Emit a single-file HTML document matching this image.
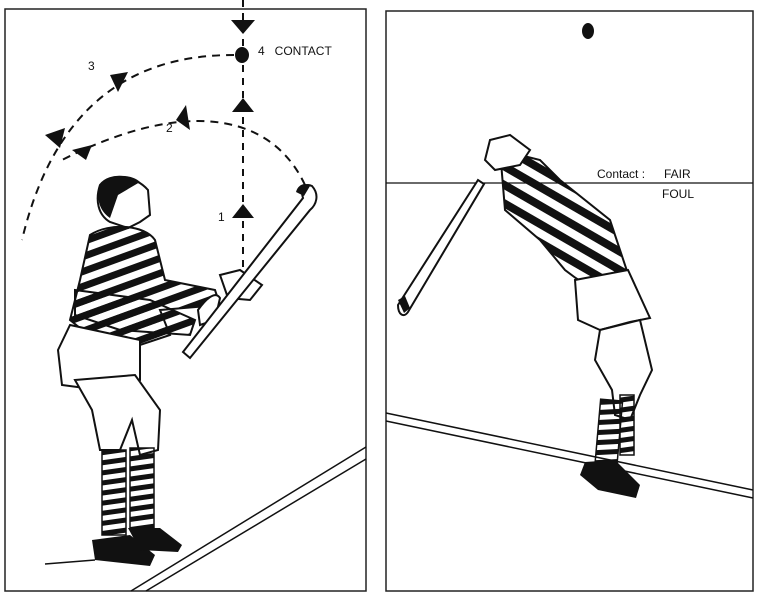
<!DOCTYPE html>
<html><head><style>
html,body{margin:0;padding:0;background:#fff}
svg{display:block}
text{font-family:"Liberation Sans",sans-serif;fill:#111}
</style></head><body>
<svg width="757" height="600" viewBox="0 0 757 600" xmlns="http://www.w3.org/2000/svg">
<defs>
<pattern id="st" width="14" height="14" patternUnits="userSpaceOnUse" patternTransform="rotate(-20)">
<rect width="14" height="7" fill="#111"/></pattern>
<pattern id="st2" width="16" height="16" patternUnits="userSpaceOnUse" patternTransform="rotate(30)">
<rect width="16" height="8" fill="#111"/></pattern>
<pattern id="sk" width="10" height="10" patternUnits="userSpaceOnUse" patternTransform="rotate(-8)">
<rect width="10" height="5" fill="#111"/></pattern>
</defs>
<rect width="757" height="600" fill="#fff"/>
<!-- Left panel -->
<rect x="5" y="9" width="361" height="582" fill="none" stroke="#222" stroke-width="1.5"/>
<line x1="243" y1="0" x2="243" y2="275" stroke="#111" stroke-width="2" stroke-dasharray="7,6"/>
<polygon points="231,20 255,20 243,34" fill="#111"/>
<ellipse cx="242" cy="55" rx="7" ry="8" fill="#111"/>
<polygon points="232,112 254,112 243,98" fill="#111"/>
<polygon points="232,218 254,218 243,204" fill="#111"/>
<path d="M234,55 C160,55 60,80 22,240" fill="none" stroke="#111" stroke-width="2" stroke-dasharray="8,6"/>
<path d="M305,185 C270,110 180,100 62,160" fill="none" stroke="#111" stroke-width="2" stroke-dasharray="8,6"/>
<polygon points="110,75 128,72 118,92" fill="#111"/>
<polygon points="45,135 65,128 60,148" fill="#111"/>
<polygon points="186,105 190,130 176,120" fill="#111"/>
<polygon points="72,150 92,145 86,160" fill="#111"/>
<text x="258" y="55" font-size="12">4&#160;&#160;&#160;CONTACT</text>
<text x="88" y="70" font-size="12">3</text>
<text x="166" y="132" font-size="12">2</text>
<text x="218" y="221" font-size="12">1</text>
<line x1="131" y1="591" x2="366" y2="447" stroke="#111" stroke-width="1.5"/>
<line x1="146" y1="591" x2="366" y2="459" stroke="#111" stroke-width="1.5"/>
<!-- left figure -->
<path d="M100,185 C110,172 135,175 148,190 L150,215 L140,222 L128,228 L110,222 C98,215 95,200 100,185Z" fill="#fff" stroke="#111" stroke-width="2"/>
<path d="M100,185 C105,175 130,172 140,182 L118,195 L110,218 C98,210 96,195 100,185Z" fill="#111"/>
<path d="M90,235 C110,222 145,225 155,240 L165,280 L215,290 L220,305 L160,310 L170,335 L140,345 L95,340 L70,320 L80,280Z" fill="url(#st)" stroke="#111" stroke-width="2"/>
<path d="M75,290 L150,300 L195,320 L190,335 L120,330 L75,315Z" fill="url(#st)" stroke="#111" stroke-width="2"/>
<path d="M70,325 L140,340 L140,380 L100,390 L62,385 L58,350Z" fill="#fff" stroke="#111" stroke-width="2"/>
<path d="M75,380 L135,375 L160,410 L158,450 L140,455 L132,420 L120,450 L100,450 L92,410Z" fill="#fff" stroke="#111" stroke-width="2"/>
<rect x="102" y="450" width="24" height="85" fill="url(#sk)" stroke="#111" stroke-width="1.5"/>
<rect x="130" y="448" width="24" height="80" fill="url(#sk)" stroke="#111" stroke-width="1.5"/>
<path d="M92,540 L130,535 L155,555 L150,566 L95,560 Z" fill="#111"/>
<path d="M128,528 L160,528 L182,545 L178,552 L140,550Z" fill="#111"/>
<line x1="45" y1="564" x2="95" y2="560" stroke="#111" stroke-width="1.5"/>
<path d="M198,310 C205,300 215,290 220,298 L215,320 L200,325Z" fill="#fff" stroke="#111" stroke-width="2"/>
<path d="M220,275 L240,270 L262,285 L250,300 L228,298Z" fill="#fff" stroke="#111" stroke-width="2"/>
<path d="M183,352 L303,198 C300,188 305,183 312,186 C320,195 316,205 310,210 L190,358Z" fill="#fff" stroke="#111" stroke-width="2"/>
<path d="M296,192 C298,184 306,182 310,186 L304,196Z" fill="#111"/>
<!-- Right panel -->
<rect x="386" y="11" width="367" height="580" fill="none" stroke="#222" stroke-width="1.5"/>
<ellipse cx="588" cy="31" rx="6" ry="8" fill="#111"/>
<line x1="386" y1="183" x2="753" y2="183" stroke="#111" stroke-width="1.3"/>
<text x="597" y="178" font-size="12">Contact :</text>
<text x="664" y="178" font-size="12">FAIR</text>
<text x="662" y="198" font-size="12">FOUL</text>
<line x1="386" y1="413" x2="753" y2="490" stroke="#111" stroke-width="1.5"/>
<line x1="386" y1="421" x2="753" y2="498" stroke="#111" stroke-width="1.5"/>
<!-- right figure -->
<path d="M398,305 L478,180 L484,184 L408,312 C404,318 398,315 398,305Z" fill="#fff" stroke="#111" stroke-width="2"/>
<path d="M398,300 L404,313 L410,308 L405,296Z" fill="#111"/>
<path d="M500,150 L540,160 L560,180 L610,220 L630,280 L585,285 L565,270 L540,240 L505,210 Z" fill="url(#st2)" stroke="#111" stroke-width="2"/>
<path d="M490,140 L510,135 L530,150 L520,165 L495,170 L485,160Z" fill="#fff" stroke="#111" stroke-width="2"/>
<path d="M575,280 L628,270 L650,318 L630,322 L600,330 L578,320Z" fill="#fff" stroke="#111" stroke-width="2"/>
<path d="M600,330 L640,320 L652,370 L640,395 L630,420 L615,415 L612,390 L595,360Z" fill="#fff" stroke="#111" stroke-width="2"/>
<rect x="598" y="400" width="22" height="65" fill="url(#sk)" stroke="#111" stroke-width="1.5" transform="rotate(5 609 430)"/>
<rect x="620" y="395" width="14" height="60" fill="url(#sk)" stroke="#111" stroke-width="1.5"/>
<path d="M585,462 L615,460 L640,485 L636,498 L598,490 L580,475Z" fill="#111"/>
</svg>
</body></html>
